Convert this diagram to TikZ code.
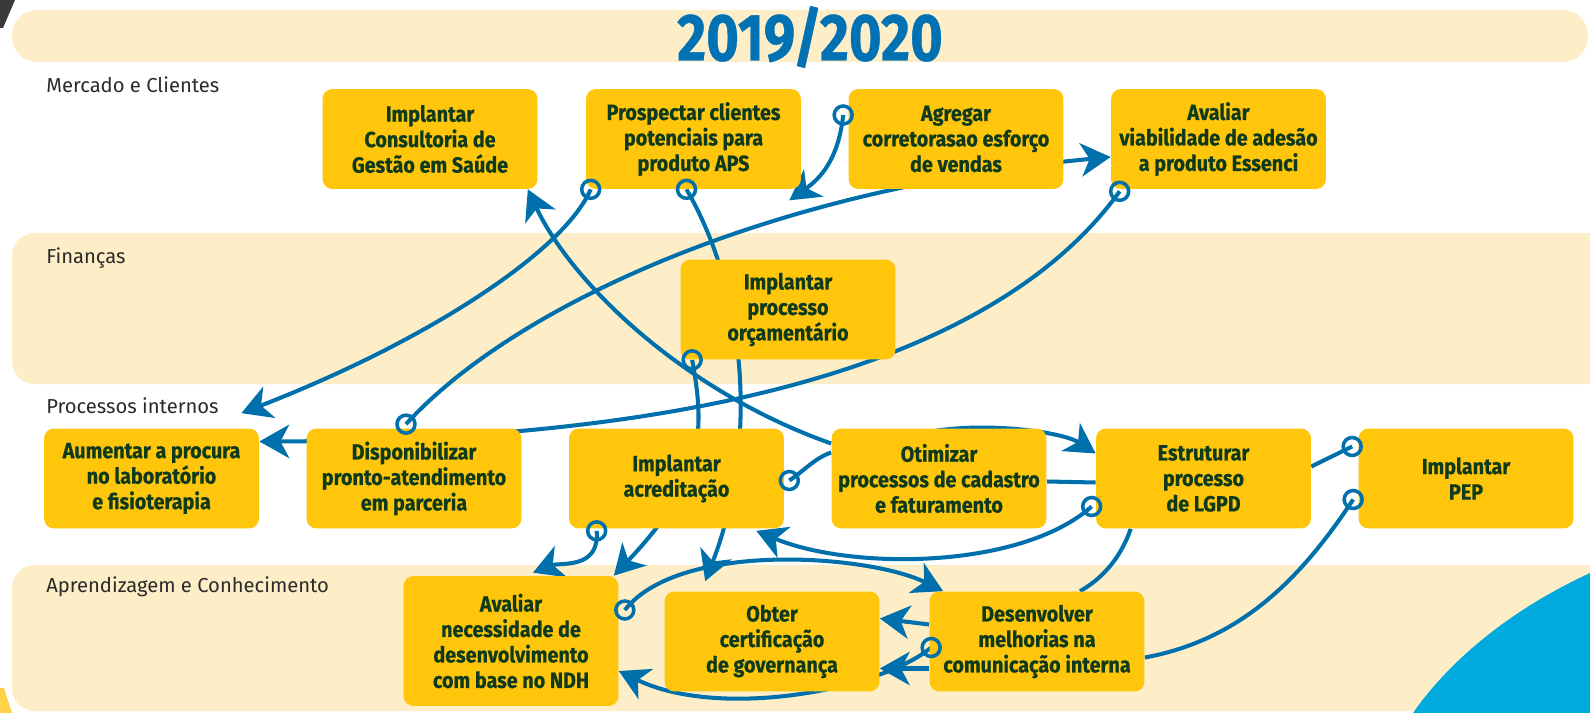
\documentclass[tikz,border=0pt]{standalone}
\usepackage{fontspec}
\setmainfont{Fira Sans}
\newfontfamily\boxfont[FakeStretch=0.9, BoldFeatures={FakeBold=0.6}]{Fira Sans}
\newfontfamily\titlefont[FakeStretch=0.84, BoldFeatures={FakeBold=0.6}]{Fira Sans}
\usetikzlibrary{calc}
\usetikzlibrary{arrows.meta}

\definecolor{bandcream}{HTML}{FDEEC8}
\definecolor{boxyellow}{HTML}{FFC60B}
\definecolor{boxgreen}{HTML}{0F3B1C}
\definecolor{linkblue}{HTML}{0070AD}
\definecolor{titleblue}{HTML}{0071B3}
\definecolor{labelgray}{HTML}{2A2A2A}
\definecolor{cornercyan}{HTML}{00AADF}
\definecolor{wedgegray}{HTML}{3A3A3A}
\definecolor{wedgeyellow}{HTML}{FFD24A}

\pgfdeclarelayer{bands}
\pgfdeclarelayer{links}
\pgfdeclarelayer{front}
\pgfsetlayers{bands,links,main,front}

\begin{document}
\begin{tikzpicture}[x=0.02cm, y=-0.02cm,
	goal/.style={align=center, rounded corners=0.2cm, fill=boxyellow, text=boxgreen, minimum width=4.3cm, minimum height=2cm, inner sep=2pt, font=\boxfont\bfseries\fontsize{12.5}{14.5}\selectfont},
	lane/.style={anchor=west, inner sep=0pt, text=labelgray, font=\fontsize{11.5}{13}\selectfont},
	plainline/.style={draw=linkblue, line width=2.3pt},
	link/.style={plainline, -{Stealth[length=17pt,width=19pt,inset=5pt]}},
	ring/.style={draw=linkblue, line width=2pt}]

		\useasboundingbox (0,0) rectangle (1590,713);

		% bands
		\begin{pgfonlayer}{bands}
		\fill[wedgegray] (0,0) -- (15,0) -- (3,28) -- (0,28) -- cycle;
		\fill[wedgeyellow] (0,688) -- (4,688) -- (12,713) -- (0,713) -- cycle;
		\fill[bandcream, rounded corners=0.5cm] (12,10) rectangle (1588,62);
		\fill[bandcream, rounded corners=0.45cm] (12,233) rectangle (1620,384);
		\fill[bandcream, rounded corners=0.45cm] (12,565) rectangle (1620,711);
		\fill[cornercyan] (1413,713) .. controls (1450,660) and (1510,610) .. (1590,573) -- (1600,573) -- (1600,720) -- (1400,720) -- cycle;
		\end{pgfonlayer}

		% title
		\node[text=titleblue, font=\titlefont\bfseries\fontsize{38}{40}\selectfont] (title) at (810,37) {2019/2020};

		% lanes
		\node[lane] (mercado) at (46,85) {Mercado e Clientes};
		\node[lane] (financas) at (46,258) {Finanças};
		\node[lane] (processos) at (46,406) {Processos internos};
		\node[lane] (aprendizagem) at (46,587) {Aprendizagem e Conhecimento};

		% mercado e clientes
		\node[goal] (cons) at (430,139) {Implantar\\Consultoria de\\Gestão em Saúde};
		\node[goal] (pros) at (693.5,139) {Prospectar clientes\\potenciais para\\produto APS};
		\node[goal] (agre) at (956,139) {Agregar\\corretorasao esforço\\de vendas};
		\node[goal] (aval) at (1218.5,139) {Avaliar\\viabilidade de adesão\\a produto Essenci};

		% financas
		\node[goal] (orca) at (788,309.5) {Implantar\\processo\\orçamentário};

		% processos internos
		\node[goal] (aum) at (151.5,478.5) {Aumentar a procura\\no laboratório\\e fisioterapia};
		\node[goal] (disp) at (414,478.5) {Disponibilizar\\pronto-atendimento\\em parceria};
		\node[goal] (acre) at (676.5,478.5) {Implantar\\acreditação};
		\node[goal] (otim) at (939,478.5) {Otimizar\\processos de cadastro\\e faturamento};
		\node[goal] (estr) at (1203.5,478.5) {Estruturar\\processo\\de LGPD};
		\node[goal] (pep) at (1466,478.5) {Implantar\\PEP};

		% aprendizagem e conhecimento
		\node[goal, minimum height=2.6cm] (necs) at (511,641) {Avaliar\\necessidade de\\desenvolvimento\\com base no NDH};
		\node[goal] (cert) at (772,641.5) {Obter\\certificação\\de governança};
		\node[goal] (comu) at (1037,641.5) {Desenvolver\\melhorias na\\comunicação interna};

		% loop points
		\coordinate (l1) at ($(pros.south west)+(5,0)$);
		\coordinate (l2) at ($(agre.west)+(-5,-24)$);
		\coordinate (l3) at ($(pros.south)+(-7,0)$);
		\coordinate (l4) at ($(aval.south west)+(9,2)$);
		\coordinate (l5) at ($(disp.north)+(-8,-4)$);
		\coordinate (l6) at ($(orca.south west)+(12,0)$);
		\coordinate (l7) at ($(acre.east)+(5,2)$);
		\coordinate (l8) at ($(estr.west)+(-4,28)$);
		\coordinate (l9) at ($(pep.west)+(-6,-32)$);
		\coordinate (l10) at ($(pep.west)+(-5,21)$);
		\coordinate (l11) at ($(acre.south west)+(28,2)$);
		\coordinate (l12) at ($(necs.east)+(6,-31)$);
		\coordinate (l13) at ($(comu.west)+(2,6)$);

		% links
		\begin{pgfonlayer}{links}
		\draw[link] (l1) .. controls (565,250) and (430,340) .. ($(aum.north east)+(-18,-15)$);
		\draw[link] (l2) .. controls (838,165) and (815,182) .. ($(pros.south east)+(-12,11)$);
		\draw[link] (l3) .. controls (745,290) and (760,440) .. ($(cert.north west)+(41,-10)$);
		\draw[link] (l4) .. controls (1020,330) and (780,440) .. ($(aum.east)+(0,-37)$);
		\draw[link] (l5) .. controls (510,310) and (760,190) .. ($(aval.west)+(0,18)$);
		\draw[link] (l6) .. controls (705,430) and (705,480) .. ($(necs.north east)+(-5,0)$);

		\draw[link] ($(otim.west)+(0,-35)$) .. controls (680,390) and (570,280) .. ($(cons.south east)+(-10,0)$);
		\draw[plainline] (l7) .. controls (805,470) and (815,458) .. ($(otim.west)+(0,-26)$);
		\draw[link] ($(otim.north west)+(60,15)$) .. controls (950,416) and (1060,430) .. ($(estr.west)+(0,-25)$);
		\draw[plainline] ($(otim.east)+(0,3)$) -- ($(estr.west)+(0,4)$);
		\draw[link] (l8) .. controls (1020,570) and (850,570) .. ($(acre.south east)+(-28,2)$);
		\draw[plainline] (l9) -- ($(estr.east)+(0,-12)$);
		\draw[plainline] (l10) .. controls (1300,580) and (1240,640) .. ($(comu.east)+(0,16)$);
		\draw[plainline] ($(estr.south west)+(35,0)$) .. controls (1120,560) and (1100,580) .. ($(comu.north)+(43,0)$);
		\draw[link] (l11) .. controls (600,570) and (560,562) .. ($(necs.north)+(22,-3)$);

		\draw[link] (l12) .. controls (680,540) and (870,555) .. ($(comu.north west)+(14,0)$);
		\draw[link] ($(comu.west)+(0,-17)$) -- ($(cert.east)+(0,-23)$);
		\draw[link] ($(comu.west)+(0,27)$) -- ($(cert.east)+(0,27)$);
		\draw[link] (l13) .. controls (880,690) and (720,720) .. ($(necs.east)+(0,30)$);
		\end{pgfonlayer}

		% loops
		\begin{pgfonlayer}{front}
		\foreach \l in {1,...,13}
			\draw[ring] (l\l) circle (9);
		\end{pgfonlayer}

	\end{tikzpicture}
\end{document}
